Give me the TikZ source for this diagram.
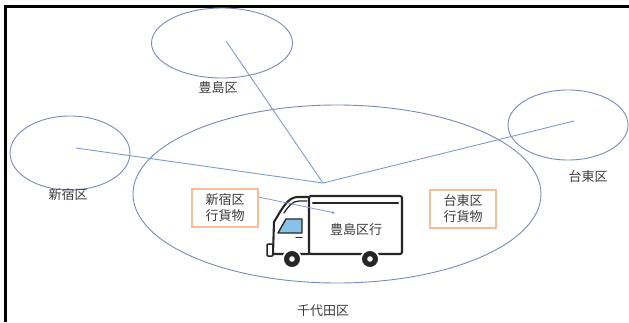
\documentclass[tikz,border=0pt]{standalone}
\usepackage{fontspec}
\newfontfamily\jp{Noto Sans CJK JP}
\usetikzlibrary{shapes.geometric,arrows.meta}
\definecolor{ward}{RGB}{120,138,185}
\definecolor{route}{RGB}{125,155,205}
\definecolor{cargo}{RGB}{242,190,155}
\definecolor{txt}{RGB}{60,60,60}
\definecolor{glass}{RGB}{135,195,232}
\tikzset{
  area/.style={draw=ward, line width=0.9pt, ellipse, inner sep=0pt},
  label/.style={text=txt, font=\jp\fontsize{13}{16}\selectfont, inner sep=0pt},
  cargobox/.style={draw=cargo, line width=1.1pt, fill=white, align=center,
    text=txt, font=\jp\fontsize{13}{16}\selectfont,
    minimum width=66pt, minimum height=38pt, inner sep=0pt},
  link/.style={draw=route, line width=0.9pt},
  truck/.style={draw=black!85, line width=2.1pt, line join=round, line cap=round},
  frame/.style={draw=black, line width=3pt}
}
\begin{document}
\begin{tikzpicture}[x=1pt,y=-1pt]
\useasboundingbox (0,0) rectangle (629,322);
% outer frame (top and left edges)
\draw[frame] (4,6) -- (629,6);
\draw[frame] (5.5,4.5) -- (5.5,322);

% wards
\node[area, minimum width=408pt, minimum height=178pt] (chiyoda) at (337,194) {};
\node[area, minimum width=141pt, minimum height=70pt] (toshima) at (222,43) {};
\node[area, minimum width=120pt, minimum height=74pt] (shinjuku) at (70,153) {};
\node[area, minimum width=120pt, minimum height=70pt] (taito) at (568,125) {};

\node[label] (ltoshima) at (218,88) {豊島区};
\node[label] (lshinjuku) at (68,195) {新宿区};
\node[label] (ltaito) at (588,177) {台東区};
\node[label] (lchiyoda) at (323,311) {千代田区};

% delivery routes meeting at the hub
\coordinate (hub) at (323,183);
\coordinate (ptoshima) at (226,41);
\coordinate (pshinjuku) at (76,148);
\coordinate (ptaito) at (574,121);
\draw[link] (ptoshima) -- (hub);
\draw[link] (pshinjuku) -- (hub);
\draw[link] (ptaito) -- (hub);

% cargo labels
\node[cargobox] (shinjukucargo) at (225,208) {新宿区\\行貨物};
\node[cargobox] (taitocargo) at (463,209) {台東区\\行貨物};

% truck: cab
\draw[truck] (309,197) -- (298,197) .. controls (290,197) and (285,204) .. (280,212)
  -- (274,222) -- (273,254) -- (309,254);
\draw[truck, line width=1.3pt] (307,201) -- (299,201) .. controls (292,201) and (288,207) .. (284,213);
\draw[truck, line width=1.4pt, fill=glass] (286,219) -- (302,219) -- (302,233) -- (278,233) -- cycle;
\draw[truck, line width=1.4pt] (296,237.5) -- (302,237.5);
\draw[truck, line width=1.5pt, rounded corners=1pt] (267,244) rectangle (273,256);
% truck: cargo box
\draw[truck, fill=white, rounded corners=2pt] (309,196) rectangle (402,254);
\draw[truck] (313,203) -- (398,203);
\node[label] (dest) at (356,230) {豊島区行};
% truck: wheels
\foreach \wx/\wn in {292/front, 370/rear}{
  \fill[black!85, draw=white, line width=1.8pt] (\wx,259) circle (9pt);
  \fill[white] (\wx,259) circle (2.8pt);
}

% parcel moving into the truck
\coordinate (drop) at (335,213);
\draw[link, line width=0.8pt, -{Stealth[length=3pt,width=3pt]}] (shinjukucargo.east |- 0,197) -- (drop);
\end{tikzpicture}
\end{document}
